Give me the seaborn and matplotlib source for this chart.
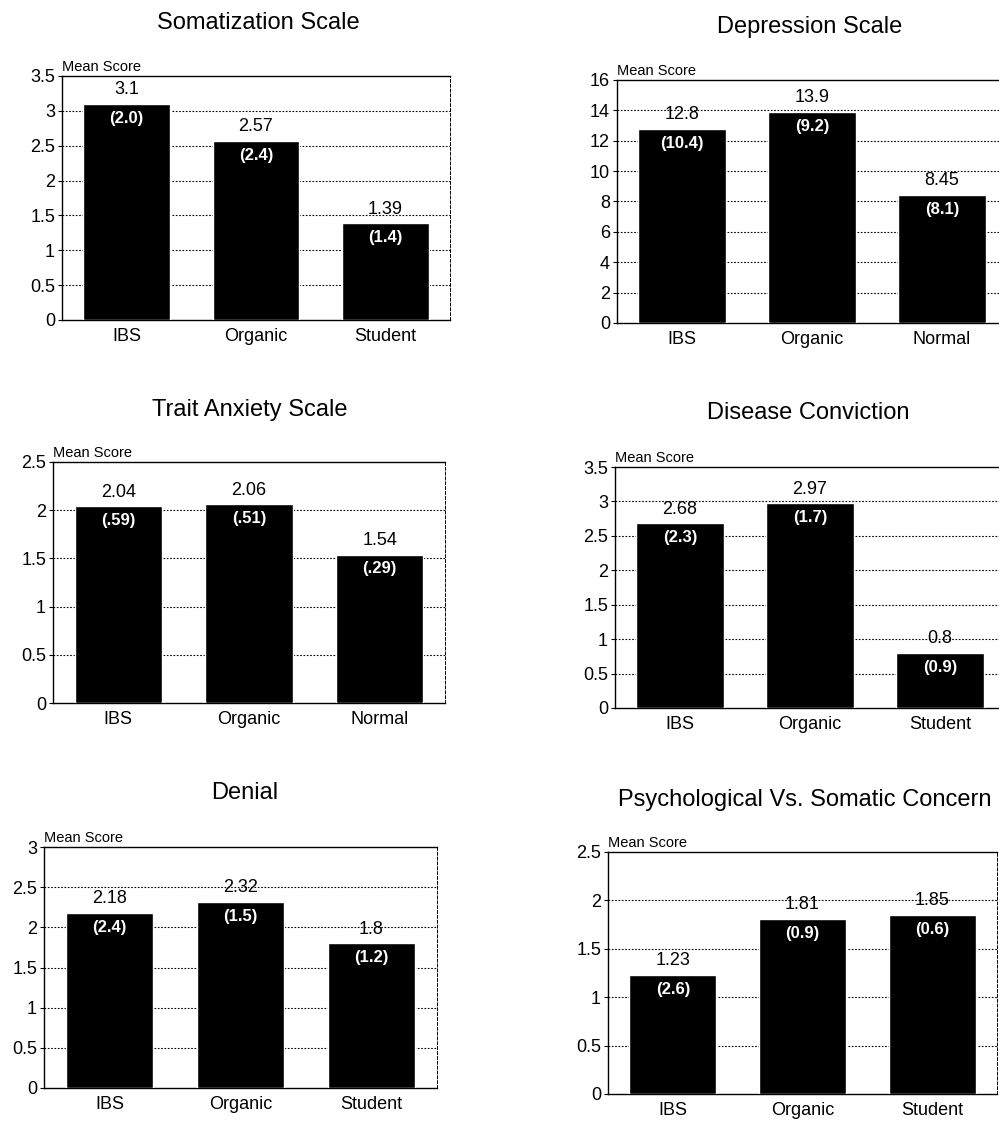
import numpy as np
import pandas as pd
import matplotlib
matplotlib.use("Agg")
import matplotlib.pyplot as plt
import seaborn as sns

# ---- data ----
titles = ["Somatization Scale", "Depression Scale", "Trait Anxiety Scale",
          "Disease Conviction", "Denial", "Psychological Vs. Somatic Concern"]

groups_som = ["IBS", "Organic", "Student"]
groups_dep = ["IBS", "Organic", "Normal"]
groups_anx = ["IBS", "Organic", "Normal"]
groups_dis = ["IBS", "Organic", "Student"]
groups_den = ["IBS", "Organic", "Student"]
groups_psy = ["IBS", "Organic", "Student"]

means_som = [3.1, 2.57, 1.39]
means_dep = [12.8, 13.9, 8.45]
means_anx = [2.04, 2.06, 1.54]
means_dis = [2.68, 2.97, 0.8]
means_den = [2.18, 2.32, 1.8]
means_psy = [1.23, 1.81, 1.85]

labels_som = ["3.1", "2.57", "1.39"]
labels_dep = ["12.8", "13.9", "8.45"]
labels_anx = ["2.04", "2.06", "1.54"]
labels_dis = ["2.68", "2.97", "0.8"]
labels_den = ["2.18", "2.32", "1.8"]
labels_psy = ["1.23", "1.81", "1.85"]

sd_som = ["(2.0)", "(2.4)", "(1.4)"]
sd_dep = ["(10.4)", "(9.2)", "(8.1)"]
sd_anx = ["(.59)", "(.51)", "(.29)"]
sd_dis = ["(2.3)", "(1.7)", "(0.9)"]
sd_den = ["(2.4)", "(1.5)", "(1.2)"]
sd_psy = ["(2.6)", "(0.9)", "(0.6)"]

ymax = [3.5, 16, 2.5, 3.5, 3, 2.5]
ystep = [0.5, 2, 0.5, 0.5, 0.5, 0.5]

sns.set_style("ticks")
plt.rcParams['font.family'] = ['Liberation Sans', 'DejaVu Sans']
plt.rcParams['text.color'] = 'black'
plt.rcParams['axes.labelcolor'] = 'black'
plt.rcParams['xtick.color'] = 'black'
plt.rcParams['ytick.color'] = 'black'

W, H = 999, 1124
fig = plt.figure(figsize=(W / 100, H / 100), dpi=100)

# axes boxes in pixels: left, top, right, bottom ; title centre x, y
boxes = [
    (62, 76, 450, 320, 258, 23),
    (617, 80, 1007, 323, 810, 27),
    (53, 462, 445, 703, 250, 410),
    (615, 467, 1005, 708, 808, 413),
    (44, 847, 437, 1088, 245, 793),
    (608, 852, 997, 1094, 805, 800),
]

panels = [
    (groups_som, means_som, labels_som, sd_som),
    (groups_dep, means_dep, labels_dep, sd_dep),
    (groups_anx, means_anx, labels_anx, sd_anx),
    (groups_dis, means_dis, labels_dis, sd_dis),
    (groups_den, means_den, labels_den, sd_den),
    (groups_psy, means_psy, labels_psy, sd_psy),
]

for i, (groups, means, labs, sds) in enumerate(panels):
    l, t, r, b, tx, ty = boxes[i]
    ax = fig.add_axes([l / W, 1 - b / H, (r - l) / W, (b - t) / H])
    df = pd.DataFrame({"group": groups, "mean": means})
    sns.barplot(data=df, x="group", y="mean", ax=ax, color="black",
                saturation=1, width=0.67, zorder=3)
    ax.set_xlim(-0.5, 2.5)
    ax.set_ylim(0, ymax[i])
    ticks = np.arange(0, ymax[i] + 1e-9, ystep[i])
    ax.set_yticks(ticks)
    ax.set_yticklabels([f"{v:g}" for v in ticks], fontsize=13)
    ax.tick_params(axis="y", length=3, width=0.8, pad=2, color="black")
    ax.tick_params(axis="x", length=0, labelsize=13, pad=6)
    ax.set_xlabel("")
    ax.set_ylabel("")
    for v in ticks[1:-1]:
        ax.axhline(v, color="black", lw=0.8, ls=(0, (1.5, 1.5)), zorder=1)
    for s in ax.spines.values():
        s.set_visible(True)
        s.set_color("black")
        s.set_linewidth(1.0)
    ax.spines["right"].set_linestyle((0, (3, 2)))
    ax.spines["right"].set_linewidth(0.7)

    for j, (m, lab, sd) in enumerate(zip(means, labs, sds)):
        ax.annotate(lab, (j, m), xytext=(0, 4), textcoords="offset points",
                    ha="center", va="bottom", fontsize=13, color="black", zorder=5)
        ax.annotate(sd, (j, m), xytext=(0, -5), textcoords="offset points",
                    ha="center", va="top", fontsize=12, fontweight="bold",
                    color="white", zorder=5)

    ax.text(0, 1.01, "Mean Score", transform=ax.transAxes, ha="left",
            va="bottom", fontsize=10.5, color="black")
    fig.text(tx / W, 1 - ty / H, titles[i], ha="center", va="center",
             fontsize=17, color="black")

fig.savefig("out.png", dpi=100)
